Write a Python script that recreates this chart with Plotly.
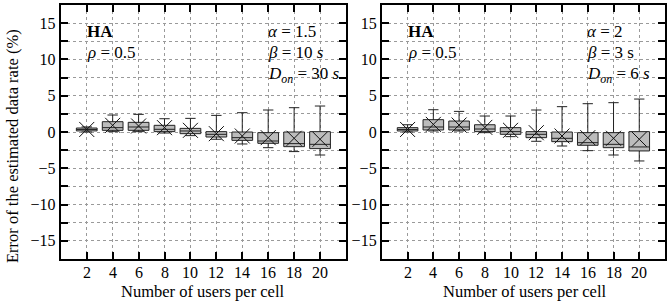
import plotly.graph_objects as go

users = [2, 4, 6, 8, 10, 12, 14, 16, 18, 20]

# Left panel: alpha=1.5, beta=10 s, Don=30 s
left_q1 = [0.15, 0.23, 0.23, 0.05, -0.23, -0.69, -1.15, -1.56, -2.02, -2.29]
left_median = [0.35, 0.60, 0.69, 0.37, 0.14, -0.32, -0.78, -1.24, -1.60, -1.70]
left_q3 = [0.55, 1.42, 1.33, 0.92, 0.50, 0.05, 0.00, -0.09, 0.00, 0.05]
left_low = [0.00, 0.05, 0.05, -0.14, -0.50, -1.00, -1.65, -2.16, -2.70, -3.17]
left_high = [0.70, 2.34, 2.43, 1.83, 1.88, 2.29, 2.66, 3.03, 3.35, 3.58]
left_mean = [0.35, 0.92, 0.83, 0.60, 0.23, -0.23, -0.55, -0.78, -0.87, -1.00]

# Right panel: alpha=2, beta=3 s, Don=6 s
right_q1 = [0.14, 0.28, 0.28, 0.05, -0.32, -0.78, -1.33, -1.83, -2.16, -2.61]
right_median = [0.35, 0.69, 0.69, 0.41, 0.05, -0.32, -0.87, -1.47, -1.70, -2.06]
right_q3 = [0.60, 1.70, 1.51, 1.00, 0.60, 0.05, 0.00, -0.09, -0.09, 0.05]
right_low = [0.00, 0.14, 0.14, -0.09, -0.64, -1.28, -1.93, -2.57, -3.17, -3.99]
right_high = [1.00, 3.07, 2.84, 2.20, 2.20, 3.03, 3.49, 3.90, 4.04, 4.54]
right_mean = [0.35, 1.05, 0.96, 0.64, 0.23, -0.10, -0.55, -0.78, -0.87, -1.00]

x_ticks = [2, 4, 6, 8, 10, 12, 14, 16, 18, 20]
x_tick_labels = ["2", "4", "6", "8", "10", "12", "14", "16", "18", "20"]

FONT = "Liberation Serif, Times New Roman, serif"
W, H = 667, 304
T, B = 5, 259
PH = B - T

def py(pix):
    """pixel y from top -> paper y"""
    return (B - pix) / PH

fig = go.Figure()

panels = [
    ("x", "y", left_q1, left_median, left_q3, left_low, left_high, left_mean),
    ("x2", "y2", right_q1, right_median, right_q3, right_low, right_high, right_mean),
]
for xa, ya, q1, med, q3, lo, hi, mn in panels:
    fig.add_trace(go.Box(
        x=users, q1=q1, median=med, q3=q3, lowerfence=lo, upperfence=hi,
        width=1.6, whiskerwidth=0.5, boxpoints=False,
        fillcolor="#bcbcbc", line=dict(color="#222222", width=1),
        xaxis=xa, yaxis=ya, showlegend=False, hoverinfo="skip",
    ))
    fig.add_trace(go.Scatter(
        x=users, y=mn, mode="markers",
        marker=dict(symbol="x-thin-open", size=15, color="#111111",
                    line=dict(color="#111111", width=1)),
        xaxis=xa, yaxis=ya, showlegend=False, hoverinfo="skip",
    ))

L0, L1 = 61 / W, 347 / W
R0, R1 = 383 / W, 1.0

xcommon = dict(
    range=[0, 22], tickvals=x_ticks, ticktext=x_tick_labels, showticklabels=False,
    ticks="inside", ticklen=7, tickwidth=1.5,
    tickcolor="black", showline=True, linecolor="black", linewidth=2, mirror="ticks",
    showgrid=True, gridcolor="#9a9a9a", griddash="dot", gridwidth=1, zeroline=False,
)
ycommon = dict(
    range=[-17.5, 17.5], tick0=0, dtick=5, ticks="inside", ticklen=7, tickwidth=1.5,
    tickcolor="black", showline=True, linecolor="black", linewidth=2, mirror="ticks",
    showgrid=True, gridcolor="#9a9a9a", griddash="dot", gridwidth=1, zeroline=False,
    tickfont=dict(family=FONT, size=16, color="black"),
    minor=dict(dtick=2.5, tick0=0, ticks="inside", ticklen=7, tickwidth=1.5, tickcolor="black",
               showgrid=True, gridcolor="#9a9a9a", griddash="dot", gridwidth=1),
)

fig.update_layout(
    width=W, height=H, plot_bgcolor="white", paper_bgcolor="white",
    margin=dict(l=0, r=0, t=T, b=H - B),
    xaxis=dict(domain=[L0, L1], anchor="y", **xcommon),
    yaxis=dict(domain=[0, 1], anchor="x", **ycommon),
    xaxis2=dict(domain=[R0, R1], anchor="y2", **xcommon),
    yaxis2=dict(domain=[0, 1], anchor="x2", **ycommon),
    font=dict(family=FONT, size=16, color="black"),
)

def ann(xref, yref, x, y, text):
    fig.add_annotation(x=x, y=y, xref=xref, yref=yref, text=text, showarrow=False,
                       xanchor="left", yanchor="middle",
                       font=dict(family=FONT, size=17, color="black"))

for xr, yr, a, b, d in [("x", "y", "1.5", "10 <i>s</i>", "30 <i>s</i>"),
                        ("x2", "y2", "2", "3 s", "6 <i>s</i>")]:
    ann(xr, yr, 1.9, 13.8, "<b>HA</b>")
    ann(xr, yr, 1.9, 11.0, "<i>ρ</i> = 0.5")
    ann(xr, yr, 15.8, 13.8, "<i>α</i> = " + a)
    ann(xr, yr, 15.8, 11.0, "<i>β</i> = " + b)
    ann(xr, yr, 15.8, 7.9, "<i>D</i><sub><i>on</i></sub> = " + d)

# x tick labels
for xr in ["x", "x2"]:
    for v, t in zip(x_ticks, x_tick_labels):
        fig.add_annotation(x=v, y=py(272.5), xref=xr, yref="paper", text=t, showarrow=False,
                           xanchor="center", yanchor="middle",
                           font=dict(family=FONT, size=16, color="black"))

# x-axis titles
for cx in [(61 + 347) / 2 / W, (383 + 670) / 2 / W]:
    fig.add_annotation(x=cx, y=py(291), xref="paper", yref="paper", yanchor="middle", xanchor="center",
                       text="Number of users per cell", showarrow=False,
                       font=dict(family=FONT, size=16.5, color="black"))

fig.add_annotation(x=12 / W, y=py(146), xref="paper", yref="paper", text="Error of the estimated data rate (%)",
                   textangle=-90, showarrow=False, xanchor="center", yanchor="middle",
                   font=dict(family=FONT, size=16.5, color="black"))

fig.write_html("out.html", config={"displayModeBar": False},
               post_script="document.body.style.margin='0';document.body.style.overflow='hidden';")
